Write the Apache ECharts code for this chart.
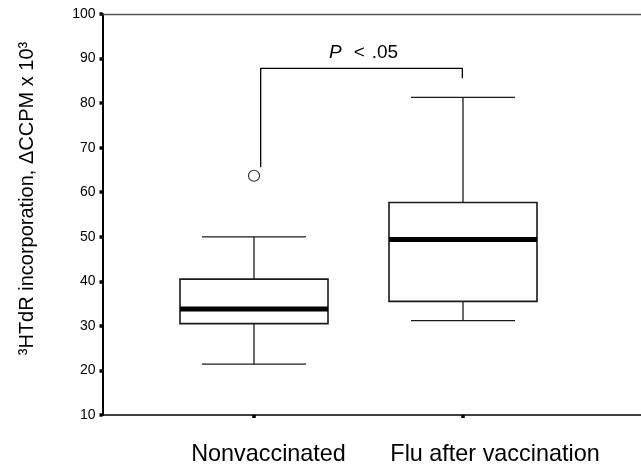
<!DOCTYPE html>
<html>
<head>
<meta charset="utf-8">
<script src="https://cdn.jsdelivr.net/npm/echarts@6/dist/echarts.min.js"></script>
<style>html,body{margin:0;padding:0;background:#fff}#c{width:641px;height:466px}</style>
</head>
<body>
<div id="c"></div>
<script>
// ---- data ----
const categories = ['Nonvaccinated', 'Flu after vaccination'];
const categoryPos = [0, 1];
const whiskerLow = [21.4, 31.2];
const q1 = [30.5, 35.5];
const median = [33.8, 49.4];
const q3 = [40.5, 57.7];
const whiskerHigh = [50.0, 81.3];
const outlierX = [0];
const outlierY = [63.7];
const bracketX = [0.032, 0.032, 0.997, 0.997];
const bracketY = [65.6, 87.8, 87.8, 85.6];
const yMin = 10, yMax = 100, yStep = 10;
const xMin = -0.7249, xMax = 1.8517;
const yAxisTitle = '\u00b3HTdR incorporation, \u0394CCPM x 10\u00b3';

const boxData = categoryPos.map((x, i) => [x, whiskerLow[i], q1[i], median[i], q3[i], whiskerHigh[i]]);
const outlierData = outlierX.map((x, i) => [x, outlierY[i]]);
const bracketData = bracketX.map((x, i) => [x, bracketY[i]]);

const chart = echarts.init(document.getElementById('c'), null, {renderer: 'canvas'});
const FONT = 'Liberation Sans, Arial, sans-serif';

function renderBox(params, api) {
  const x = api.value(0);
  const pLow = api.coord([x, api.value(1)]);
  const pQ1 = api.coord([x, api.value(2)]);
  const pMed = api.coord([x, api.value(3)]);
  const pQ3 = api.coord([x, api.value(4)]);
  const pHigh = api.coord([x, api.value(5)]);
  const cx = pLow[0];
  const bh = 74, ch = 52;
  const lineStyle = {stroke: '#1a1a1a', lineWidth: 1.3, fill: null};
  return {
    type: 'group',
    children: [
      {type: 'line', shape: {x1: cx, y1: pQ3[1], x2: cx, y2: pHigh[1]}, style: lineStyle},
      {type: 'line', shape: {x1: cx, y1: pQ1[1], x2: cx, y2: pLow[1]}, style: lineStyle},
      {type: 'line', shape: {x1: cx - ch, y1: pHigh[1], x2: cx + ch, y2: pHigh[1]}, style: lineStyle},
      {type: 'line', shape: {x1: cx - ch, y1: pLow[1], x2: cx + ch, y2: pLow[1]}, style: lineStyle},
      {type: 'rect', shape: {x: cx - bh, y: pQ3[1], width: bh * 2, height: pQ1[1] - pQ3[1]},
        style: {stroke: '#1a1a1a', lineWidth: 1.6, fill: '#fff'}},
      {type: 'line', shape: {x1: cx - bh, y1: pMed[1], x2: cx + bh, y2: pMed[1]},
        style: {stroke: '#000', lineWidth: 5}}
    ]
  };
}

chart.setOption({
  animation: false,
  backgroundColor: '#fff',
  title: {
    left: 324, top: 38,
    text: '{i|P}{s|<}{n|.05}',
    textStyle: {
      fontWeight: 'normal',
      rich: {
        i: {fontFamily: FONT, fontSize: 19, fontStyle: 'italic', fontWeight: 'normal', color: '#000'},
        s: {fontFamily: FONT, fontSize: 19, fontWeight: 'normal', color: '#000', padding: [0, 7, 0, 12]},
        n: {fontFamily: FONT, fontSize: 19, fontWeight: 'normal', color: '#000'}
      }
    }
  },
  grid: {left: 102.5, right: 0, top: 14, bottom: 51, containLabel: false, outerBoundsMode: 'none'},
  xAxis: [{
    type: 'value', min: xMin, max: xMax,
    splitLine: {show: false},
    axisLine: {show: true, onZero: false, lineStyle: {color: '#000', width: 1.5}},
    axisTick: {show: true, customValues: categoryPos, length: 3, lineStyle: {color: '#000', width: 3.5}},
    axisLabel: {
      show: true, customValues: categoryPos, margin: 28,
      formatter: function (v) {
        const i = categoryPos.indexOf(Math.round(v));
        return i === 0 ? '{a|' + categories[0] + '}' : '{b|' + categories[1] + '}';
      },
      rich: {
        a: {fontFamily: FONT, fontSize: 23.4, color: '#000', padding: [0, 0, 0, 29]},
        b: {fontFamily: FONT, fontSize: 23.4, color: '#000', padding: [0, 0, 0, 64]}
      }
    }
  }, {
    type: 'value', min: xMin, max: xMax, position: 'top',
    splitLine: {show: false},
    axisLine: {show: true, onZero: false, lineStyle: {color: '#555', width: 1.3}},
    axisTick: {show: false}, axisLabel: {show: false}
  }],
  yAxis: {
    type: 'value', min: yMin, max: yMax, interval: yStep,
    splitLine: {show: false},
    axisLine: {show: true, onZero: false, lineStyle: {color: '#000', width: 2}},
    axisTick: {show: true, length: 3, lineStyle: {color: '#000', width: 3.5}},
    axisLabel: {fontFamily: FONT, fontSize: 14, color: '#000', margin: 7},
    name: yAxisTitle,
    nameLocation: 'middle',
    nameGap: 65,
    nameTextStyle: {fontFamily: FONT, fontSize: 20, color: '#000', padding: [0, 0, 0, 32]}
  },
  series: [{
    type: 'custom',
    renderItem: renderBox,
    encode: {x: 0, y: [1, 2, 3, 4, 5]},
    data: boxData,
    z: 2
  }, {
    type: 'scatter',
    data: outlierData,
    symbol: 'circle',
    symbolSize: 11,
    itemStyle: {color: '#fff', borderColor: '#000', borderWidth: 1.2},
    z: 3
  }, {
    type: 'line',
    data: bracketData,
    symbol: 'none',
    lineStyle: {color: '#000', width: 1.3},
    z: 3
  }]
});
</script>
</body>
</html>
